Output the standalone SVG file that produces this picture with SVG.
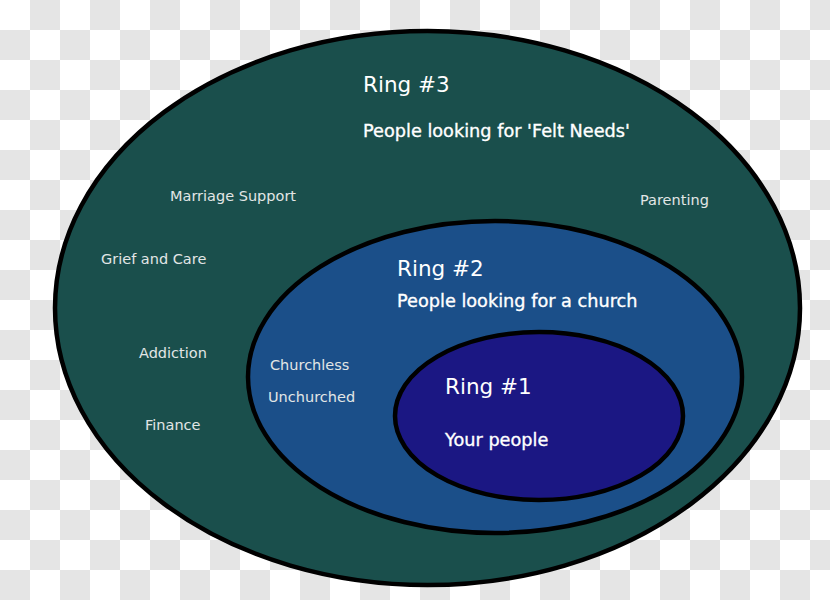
<svg xmlns="http://www.w3.org/2000/svg" width="830" height="600" viewBox="0 0 830 600">
  <defs>
    <pattern id="checker" x="0" y="0" width="60" height="60" patternUnits="userSpaceOnUse">
      <rect x="0" y="0" width="60" height="60" fill="#ffffff"/>
      <rect x="30" y="0" width="30" height="30" fill="#e5e5e5"/>
      <rect x="0" y="30" width="30" height="30" fill="#e5e5e5"/>
    </pattern>
  </defs>
  <style>
    .ring { stroke: #000000; stroke-width: 4.5; }
    .title { font-family: "DejaVu Sans", "Liberation Sans", sans-serif; font-size: 21.5px; fill: #ffffff; }
    .sub { font-family: "DejaVu Sans", "Liberation Sans", sans-serif; font-size: 17.7px; fill: #ffffff; stroke: #ffffff; stroke-width: 0.35; }
    .lbl { font-family: "DejaVu Sans", "Liberation Sans", sans-serif; font-size: 14.5px; fill: #e2e6e6; }
  </style>
  <rect x="0" y="0" width="830" height="600" fill="url(#checker)"/>

  <g id="ring3">
    <ellipse class="ring" cx="427.5" cy="308" rx="372.5" ry="277" fill="#1a4f4c"/>
    <text class="title" x="363" y="92">Ring #3</text>
    <text class="sub" x="363" y="137">People looking for 'Felt Needs'</text>
    <text class="lbl" x="170" y="201">Marriage Support</text>
    <text class="lbl" x="640" y="205">Parenting</text>
    <text class="lbl" x="101" y="264">Grief and Care</text>
    <text class="lbl" x="139" y="358">Addiction</text>
    <text class="lbl" x="145" y="430">Finance</text>
  </g>

  <g id="ring2">
    <ellipse class="ring" cx="495" cy="377" rx="247" ry="156" fill="#1b4f89"/>
    <text class="title" x="397" y="276">Ring #2</text>
    <text class="sub" x="397" y="307">People looking for a church</text>
    <text class="lbl" x="270" y="370">Churchless</text>
    <text class="lbl" x="268" y="402">Unchurched</text>
  </g>

  <g id="ring1">
    <ellipse class="ring" cx="539" cy="416" rx="144" ry="84" fill="#1b1783"/>
    <text class="title" x="445" y="394">Ring #1</text>
    <text class="sub" x="445" y="446">Your people</text>
  </g>

  <g id="connectors"/>
</svg>
